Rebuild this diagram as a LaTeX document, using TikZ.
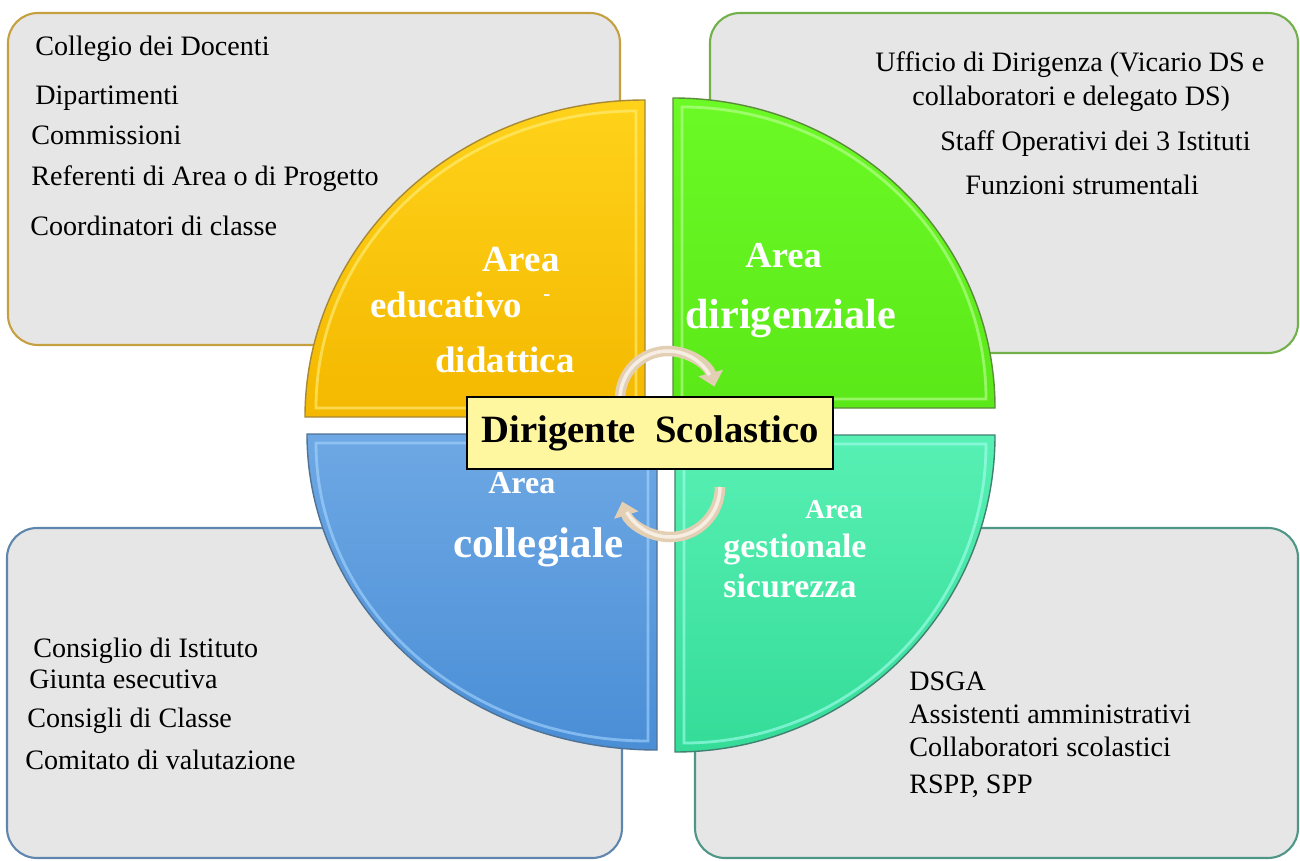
\documentclass[tikz,border=0pt]{standalone}
\usepackage{fontspec}
\setmainfont{Liberation Serif}
\usetikzlibrary{arrows.meta}
\definecolor{boxgray}{HTML}{E6E6E6}
\definecolor{edgeyellow}{HTML}{C4A040}
\definecolor{edgegreen}{HTML}{72B04A}
\definecolor{edgeblue}{HTML}{5E86AE}
\definecolor{edgeteal}{HTML}{4E9686}
\definecolor{yellowtop}{HTML}{FFD21A}
\definecolor{yellowbot}{HTML}{F4B800}
\definecolor{yellowlight}{HTML}{FFF080}
\definecolor{greentop}{HTML}{6CFA26}
\definecolor{greenbot}{HTML}{5AE818}
\definecolor{greenlight}{HTML}{C0FF9A}
\definecolor{bluetop}{HTML}{6EA8E4}
\definecolor{bluebot}{HTML}{4A8ED6}
\definecolor{bluelight}{HTML}{A6D6FF}
\definecolor{tealtop}{HTML}{58F0B4}
\definecolor{tealbot}{HTML}{34DC98}
\definecolor{teallight}{HTML}{A8FFF0}
\definecolor{dslabel}{HTML}{FFF7A0}
\definecolor{cyclecol}{HTML}{E2CFB4}
\definecolor{cyclelight}{HTML}{F6EEE2}
\tikzset{
  areabox/.style={fill=boxgray, line width=1.2pt, rounded corners=0.6cm},
  quad/.style={line width=0.8pt},
  bevel/.style={line width=1.6pt, opacity=0.6},
  itemtext/.style={anchor=base west, inner sep=0pt, font=\fontsize{16}{19}\selectfont},
  arealabel/.style={anchor=base west, inner sep=0pt, text=white, font=\bfseries\fontsize{#1}{#1}\selectfont},
  cyclearrow/.style={cyclecol, line width=6pt, -{Triangle[width=14pt, length=8pt]}},
  cycleshine/.style={cyclelight, line width=2pt}
}
\begin{document}
\begin{tikzpicture}[x=0.02cm, y=-0.02cm]
  \useasboundingbox (0,0) rectangle (1300,861);
  \draw[areabox, draw=edgeyellow] (8,13) rectangle (620,345);
  \draw[areabox, draw=edgegreen] (710,13) rectangle (1298,353);
  \draw[areabox, draw=edgeblue] (7,528) rectangle (622,858);
  \draw[areabox, draw=edgeteal] (695,528) rectangle (1298,858);

  \draw[quad, draw=edgeyellow!85!black, top color=yellowtop, bottom color=yellowbot]
    (645,417) coordinate (qed) -- (305,417) arc[start angle=180, end angle=270, x radius=340, y radius=317] -- cycle;
  \draw[bevel, yellowlight] (636,408) -- (316,408) arc[start angle=180, end angle=270, x radius=320, y radius=297] -- cycle;
  \draw[quad, draw=edgegreen!80!black, top color=greentop, bottom color=greenbot]
    (673,408) coordinate (qdi) -- (673,98) arc[start angle=270, end angle=360, x radius=322, y radius=310] -- cycle;
  \draw[bevel, greenlight] (682,399) -- (682,107) arc[start angle=270, end angle=360, x radius=304, y radius=292] -- cycle;
  \draw[quad, draw=edgeblue!85!black, top color=bluetop, bottom color=bluebot]
    (657,434) coordinate (qco) -- (307,434) arc[start angle=180, end angle=90, x radius=350, y radius=316] -- cycle;
  \draw[bevel, bluelight] (648,443) -- (316,443) arc[start angle=180, end angle=90, x radius=332, y radius=298] -- cycle;
  \draw[quad, draw=edgeteal!85!black, top color=tealtop, bottom color=tealbot]
    (675,435) coordinate (qge) -- (995,435) arc[start angle=0, end angle=90, x radius=320, y radius=317] -- cycle;
  \draw[bevel, teallight] (684,444) -- (986,444) arc[start angle=0, end angle=90, x radius=302, y radius=299] -- cycle;

  \coordinate (cyc1) at (620,399);
  \coordinate (cyc2) at (720,487);
  \draw[cyclearrow] (cyc1) arc[start angle=180, end angle=345, radius=48];
  \draw[cycleshine] (cyc1) arc[start angle=180, end angle=330, radius=48];
  \draw[cyclearrow] (cyc2) arc[start angle=0, end angle=163, radius=50];
  \draw[cycleshine] (cyc2) arc[start angle=0, end angle=150, radius=50];

  \node[draw=black, line width=1pt, fill=dslabel, minimum width=7.32cm, minimum height=1.44cm,
    font=\bfseries\fontsize{22}{24}\selectfont] (ds) at (650,433) {Dirigente\ \ Scolastico};

  \node[arealabel=21] (ed1) at (482,272) {Area};
  \node[arealabel=21] (ed2) at (370,317) {educativo};
  \node[arealabel=12] (ed3) at (543,300) {-};
  \node[arealabel=21] (ed4) at (435,372) {didattica};
  \node[arealabel=20.8] (di1) at (745,268) {Area};
  \node[arealabel=24] (di2) at (685,328) {dirigenziale};
  \node[arealabel=18.2] (co1) at (488,493) {Area};
  \node[arealabel=24.5] (co2) at (453,557) {collegiale};
  \node[arealabel=15.6] (ge1) at (805,518) {Area};
  \node[arealabel=19.3] (ge2) at (723,557) {gestionale};
  \node[arealabel=19.3] (ge3) at (723,597) {sicurezza};

  \node[itemtext] (ed_a) at (35,56) {Collegio dei Docenti};
  \node[itemtext] (ed_b) at (35,105) {Dipartimenti};
  \node[itemtext] (ed_c) at (31,145) {Commissioni};
  \node[itemtext] (ed_d) at (31,186) {Referenti di Area o di Progetto};
  \node[itemtext] (ed_e) at (30,236) {Coordinatori di classe};

  \node[itemtext] (di_a) at (875,72) {Ufficio di Dirigenza (Vicario DS e};
  \node[itemtext] (di_b) at (912,106) {collaboratori e delegato DS)};
  \node[itemtext] (di_c) at (940,151) {Staff Operativi dei 3 Istituti};
  \node[itemtext] (di_d) at (965,195) {Funzioni strumentali};

  \node[itemtext] (co_a) at (33,657) {Consiglio di Istituto};
  \node[itemtext] (co_b) at (29,688) {Giunta esecutiva};
  \node[itemtext] (co_c) at (27,727) {Consigli di Classe};
  \node[itemtext] (co_d) at (25,769) {Comitato di valutazione};

  \node[itemtext] (ge_a) at (909,690) {DSGA};
  \node[itemtext] (ge_b) at (909,723) {Assistenti amministrativi};
  \node[itemtext] (ge_c) at (909,756) {Collaboratori scolastici};
  \node[itemtext] (ge_d) at (909,793) {RSPP, SPP};
\end{tikzpicture}
\end{document}
